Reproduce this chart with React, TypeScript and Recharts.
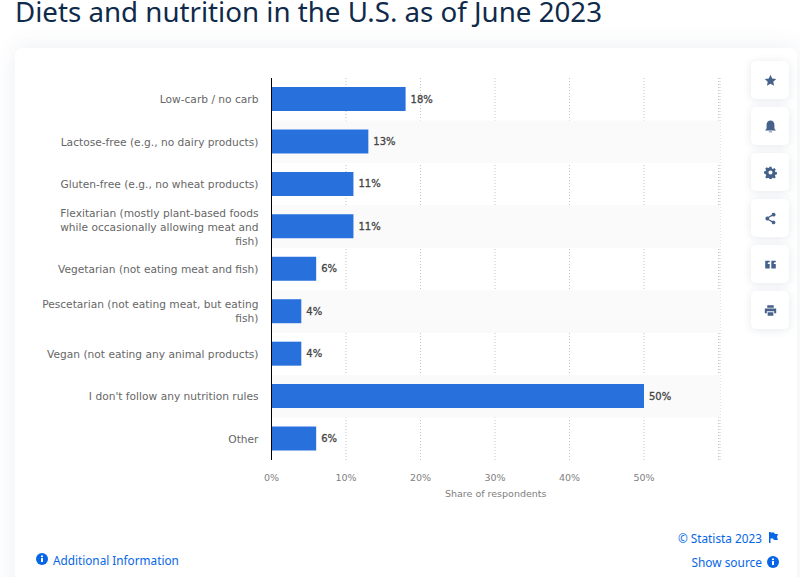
import React from 'react';
import { BarChart, Bar, XAxis, YAxis, CartesianGrid, LabelList, ReferenceArea } from 'recharts';

const categories = [
  'Low-carb / no carb',
  'Lactose-free (e.g., no dairy products)',
  'Gluten-free (e.g., no wheat products)',
  'Flexitarian (mostly plant-based foods\nwhile occasionally allowing meat and\nfish)',
  'Vegetarian (not eating meat and fish)',
  'Pescetarian (not eating meat, but eating\nfish)',
  'Vegan (not eating any animal products)',
  "I don't follow any nutrition rules",
  'Other',
];
const shares = [18, 13, 11, 11, 6, 4, 4, 50, 6];
const xTicks = [0, 10, 20, 30, 40, 50, 60];
const tickLabels = ['0%', '10%', '20%', '30%', '40%', '50%', ''];
const stripedCategories = [categories[1], categories[3], categories[5], categories[7]];

const chartData = categories.map((name, i) => ({ name, value: shares[i] }));

const FONT = '"DejaVu Sans", sans-serif';
const UI_FONT = '"Noto Sans", sans-serif';
const ICON = '#46618a';
const LINK = '#0666e5';

const CategoryTick = ({ x, y, payload }: any) => {
  const lines = String(payload.value).split('\n');
  const start = y - ((lines.length - 1) * 14) / 2 + 4;
  return (
    <text x={x} y={start} textAnchor="end" fontFamily={FONT} fontSize={10.65} fill="#666666">
      {lines.map((line, i) => (
        <tspan key={i} x={x} y={start + i * 14}>{line}</tspan>
      ))}
    </text>
  );
};

const iconPaths = [
  'M8 1l2.1 4.6 5 .6-3.7 3.4 1 5L8 12.1 3.6 14.600l1-5L.9 6.200l5-.6z',
  'M8 .5c-2.900 0-4.800 2.200-4.800 5v5L1.500 12.500v.5h13v-.5l-1.700-2v-5c0-2.800-1.900-5-4.800-5zM6 14h4v1H6z',
  'M6.700 1h2.600l.4 2 1.300.6 1.700-1.100 1.800 1.800-1.100 1.700.6 1.300 2 .4v2.600l-2 .4-.6 1.300 1.100 1.700-1.800 1.800-1.700-1.100-1.300.6-.4 2H6.700l-.4-2-1.300-.6-1.700 1.100-1.800-1.800 1.100-1.700L2 9.700 0 9.300V6.700l2-.4.6-1.300-1.100-1.700 1.800-1.800 1.700 1.100 1.300-.6zM8 5.500a2.500 2.500 0 100 5 2.500 2.500 0 000-5z',
  'M12 1a2.300 2.300 0 11-1.800 3.800L6.200 7.100a2.300 2.300 0 010 1.800l4 2.300a2.300 2.300 0 11-.7 1.300L5.400 10.200a2.500 2.500 0 110-4.400l4.100-2.300A2.300 2.300 0 0112 1z',
  'M1.500 3.500h5.500v1.700C5 5.200 4.500 6 4.500 7.500H7V13H1.500zM9 3.500h5.500v1.700c-2 0-2.500.8-2.500 2.300h2.500V13H9z',
  'M4 1.500h8v3H4zM1 5.500h14v6h-2.500V9h-9v2.500H1zM4.500 10h7v4.500h-7z',
];

const SideButton = ({ path, top }: { path: string; top: number }) => (
  <div
    style={{
      position: 'absolute', left: 751, top, width: 38, height: 38, background: '#fff', borderRadius: 5,
      boxShadow: '0 1px 8px rgba(70,90,130,0.14)', display: 'flex', alignItems: 'center', justifyContent: 'center',
    }}
  >
    <svg width={13} height={13} viewBox="0 0 16 16"><path d={path} fill={ICON} fillRule="evenodd" /></svg>
  </div>
);

const InfoIcon = ({ left, top }: { left: number; top: number }) => (
  <svg width={12} height={12} viewBox="0 0 12 12" style={{ position: 'absolute', left, top }}>
    <circle cx={6} cy={6} r={6} fill={LINK} />
    <rect x={5} y={5} width={2} height={4} fill="#fff" />
    <rect x={5} y={2.500} width={2} height={1.600} fill="#fff" />
  </svg>
);

const App = () => {
  return (
    <div style={{ position: 'fixed', left: 0, top: 0, width: 800, height: 577, overflow: 'hidden', background: '#ffffff' }}>
      <div
        style={{
          position: 'absolute', left: 15, top: 0, fontFamily: UI_FONT, fontSize: 27.7,
          lineHeight: '22px', color: '#0f2a4a', whiteSpace: 'nowrap',
        }}
      >
        Diets and nutrition in the U.S. as of June 2023
      </div>
      <div
        style={{
          position: 'absolute', left: 15, top: 48, width: 782, height: 560, background: '#fff',
          borderRadius: 8, boxShadow: '0 0 24px rgba(70,90,130,0.1)',
        }}
      />
      <div style={{ position: 'absolute', left: 0, top: 0 }}>
        <BarChart
          width={800}
          height={577}
          data={chartData}
          layout="vertical"
          barSize={24}
          margin={{ top: 78, right: 80, bottom: 67, left: 0 }}
        >
          {stripedCategories.map((c) => (
            <ReferenceArea key={c} y1={c} y2={c} fill="#fafafa" fillOpacity={1} stroke="none" />
          ))}
          <CartesianGrid horizontal={false} stroke="#c4c4c4" strokeDasharray="1 2" />
          <XAxis
            type="number"
            domain={[0, 60.2]}
            ticks={xTicks}
            height={50}
            axisLine={false}
            tickLine={false}
            interval={0}
            tickFormatter={(v: number) => tickLabels[xTicks.indexOf(v)]}
            tick={{ fontFamily: FONT, fontSize: 9.5, fill: '#808080' }}
            tickMargin={8}
            label={{ value: 'Share of respondents', position: 'insideBottom', offset: 13, fontFamily: FONT, fontSize: 9.5, fill: '#808080' }}
          />
          <YAxis
            type="category"
            dataKey="name"
            width={271.5}
            interval={0}
            axisLine={{ stroke: '#000000', strokeWidth: 1 }}
            tickLine={false}
            tickMargin={7}
            tick={<CategoryTick />}
          />
          <Bar dataKey="value" fill="#2871dd" isAnimationActive={false}>
            <LabelList
              dataKey="value"
              position="right"
              offset={5}
              formatter={(v: number) => `${v}%`}
              style={{ fontFamily: FONT, fontSize: 10, fill: '#444444', stroke: '#444444', strokeWidth: 0.3 }}
            />
          </Bar>
        </BarChart>
      </div>
      {iconPaths.map((p, i) => (
        <SideButton key={i} path={p} top={61 + i * 46} />
      ))}
      <InfoIcon left={36} top={553} />
      <div style={{ position: 'absolute', left: 53, top: 550.5, fontFamily: UI_FONT, fontSize: 11.75, lineHeight: '18px', color: LINK, whiteSpace: 'nowrap' }}>
        Additional Information
      </div>
      <div style={{ position: 'absolute', right: 38, top: 528.5, fontFamily: UI_FONT, fontSize: 11.8, lineHeight: '18px', color: LINK, whiteSpace: 'nowrap' }}>
        © Statista 2023
      </div>
      <svg width={9} height={11} viewBox="0 0 9 11" style={{ position: 'absolute', left: 769, top: 532 }}>
        <path d="M0 0h1.500v11H0zM1.500 .5H5l1 1.500h3l-1 3 1 3H5L4 6.500H1.500z" fill={LINK} />
      </svg>
      <div style={{ position: 'absolute', right: 38, top: 552.5, fontFamily: UI_FONT, fontSize: 11.9, lineHeight: '18px', color: LINK, whiteSpace: 'nowrap' }}>
        Show source
      </div>
      <InfoIcon left={767} top={556} />
    </div>
  );
};

export default App;
